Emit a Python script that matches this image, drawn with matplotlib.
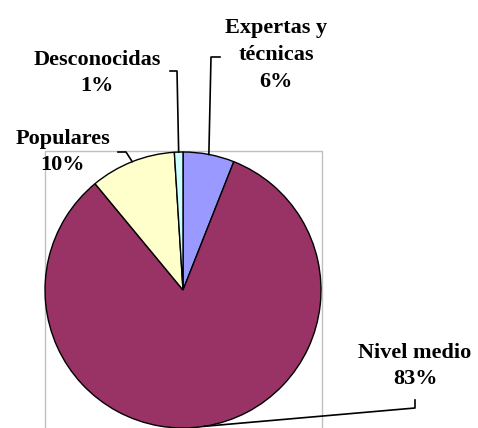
import matplotlib.pyplot as plt
import numpy as np
from matplotlib.patches import Rectangle

# data
names = ['Expertas y\ntécnicas', 'Nivel medio', 'Populares', 'Desconocidas']
values = [6, 83, 10, 1]
colors = ['#9999FF', '#993366', '#FFFFCC', '#CCFFFF']

# label layout in pixels (text centre, leader elbow points)
label_pos = [(276, 55), (415, 366), (63, 152), (97, 73)]
elbows = [[(211, 57), (220, 57)],
          [(415, 408), (415, 400)],
          [(126, 152), (118, 152)],
          [(177, 71), (170, 71)]]

W, H = 478, 428
cx, cy, r = 183, 290, 138

fig = plt.figure(figsize=(W / 100, H / 100), dpi=100)
ax = fig.add_axes([(cx - r) / W, (H - cy - r) / H, 2 * r / W, 2 * r / H])

# gray plot area border
frame = Rectangle((45 / W, -0.05), 277 / W, (H - 151) / H + 0.05,
                  transform=fig.transFigure, fill=False,
                  edgecolor='#c0c0c0', lw=1, zorder=-1)
fig.add_artist(frame)

wedges, _ = ax.pie(values, colors=colors, startangle=90, counterclock=False,
                   wedgeprops=dict(edgecolor='black', linewidth=1))
ax.set_xlim(-1, 1)
ax.set_ylim(-1, 1)
ax.axis('off')


def to_data(px, py):
    return (px - cx) / r, (cy - py) / r


for w, name, v, tp, el in zip(wedges, names, values, label_pos, elbows):
    th = np.deg2rad((w.theta1 + w.theta2) / 2)
    pts = [(np.cos(th), np.sin(th))] + [to_data(*p) for p in el]
    xs, ys = zip(*pts)
    ax.plot(xs, ys, color='black', lw=1.2, clip_on=False)
    tx, ty = to_data(*tp)
    ax.text(tx, ty, f'{name}\n{v}%', ha='center', va='center',
            fontsize=16, fontweight='bold', family='Liberation Serif',
            linespacing=1.45, clip_on=False)

fig.savefig('out.png', dpi=100)
